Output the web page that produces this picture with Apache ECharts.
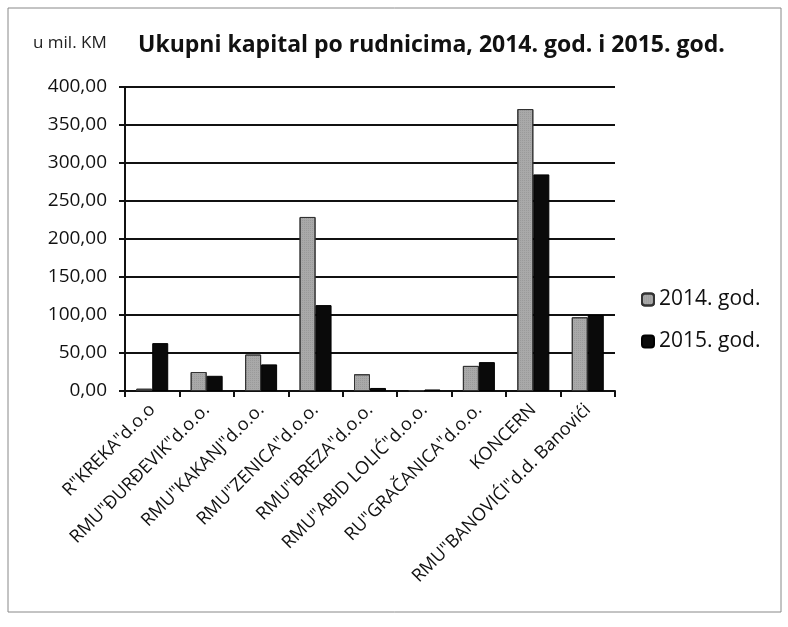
<!DOCTYPE html>
<html>
<head>
<meta charset="utf-8">
<script src="https://cdn.jsdelivr.net/npm/echarts@6/dist/echarts.min.js"></script>
<style>
  html, body { margin: 0; padding: 0; background: #fff; }
  #main { width: 788px; height: 627px; }
</style>
</head>
<body>
<div id="main"></div>
<script>
var categories = [
  'R"KREKA"d.o.o',
  'RMU"ĐURĐEVIK"d.o.o.',
  'RMU"KAKANJ"d.o.o.',
  'RMU"ZENICA"d.o.o.',
  'RMU"BREZA"d.o.o.',
  'RMU"ABID LOLIĆ"d.o.o.',
  'RU"GRAČANICA"d.o.o.',
  'KONCERN',
  'RMU"BANOVIĆI"d.d. Banovići'
]
var values2014 = [3, 25, 48, 229, 22, 1, 33, 371, 97]
var values2015 = [63, 20, 35, 113, 4, 2, 38, 285, 100]
var seriesNames = ['2014. god.', '2015. god.']

var chart = echarts.init(document.getElementById('main'))

var font = '"Open Sans", Lato, sans-serif'

var option = {
  animation: false,
  backgroundColor: '#fff',
  title: {
    text: 'Ukupni kapital po rudnicima, 2014. god. i 2015. god.',
    left: 133,
    top: 29,
    textStyle: { fontFamily: font, fontSize: 23, fontWeight: 'bold', color: '#111' }
  },
  graphic: [
    {
      type: 'rect',
      shape: { x: 8, y: 8, width: 773, height: 604 },
      style: { fill: 'none', stroke: '#888', lineWidth: 1 }
    },
    {
      type: 'text',
      left: 33,
      top: 35,
      style: { text: 'u mil. KM', fontFamily: font, fontSize: 17, fill: '#222' }
    }
  ],
  legend: {
    orient: 'vertical',
    left: 636,
    top: 284,
    itemWidth: 12,
    itemHeight: 12,
    itemGap: 21,
    textStyle: { fontFamily: font, fontSize: 21, color: '#111' },
    data: seriesNames
  },
  grid: {
    left: 125,
    right: 173,
    top: 87,
    bottom: 236
  },
  xAxis: {
    type: 'category',
    data: categories,
    axisLine: { lineStyle: { color: '#111', width: 2 } },
    axisTick: { show: true, length: 6, lineStyle: { color: '#111', width: 2 } },
    axisLabel: {
      rotate: 45,
      interval: 0,
      margin: 16,
      fontFamily: font,
      fontSize: 18,
      color: '#111'
    }
  },
  yAxis: {
    type: 'value',
    min: 0,
    max: 400,
    interval: 50,
    axisLine: { show: true, lineStyle: { color: '#111', width: 2 } },
    axisTick: { show: true, length: 6, lineStyle: { color: '#111', width: 2 } },
    splitLine: { lineStyle: { color: '#111', width: 2 } },
    axisLabel: {
      margin: 18,
      fontFamily: font,
      fontSize: 19,
      color: '#111',
      formatter: function (v) { return v.toFixed(2).replace('.', ',') }
    }
  },
  series: [
    {
      name: seriesNames[0],
      type: 'bar',
      data: values2014,
      barWidth: 16,
      barGap: '0%',
      itemStyle: {
        color: '#a9a9a9',
        borderColor: '#333',
        borderWidth: 1,
        decal: {
          symbol: 'rect',
          symbolSize: 0.6,
          dashArrayX: [1, 1],
          dashArrayY: [1, 1],
          color: 'rgba(60,60,60,0.45)'
        }
      }
    },
    {
      name: seriesNames[1],
      type: 'bar',
      data: values2015,
      barWidth: 16,
      itemStyle: { color: '#0a0a0a', borderColor: '#000', borderWidth: 1 }
    }
  ]
}

chart.setOption(option)
</script>
</body>
</html>
